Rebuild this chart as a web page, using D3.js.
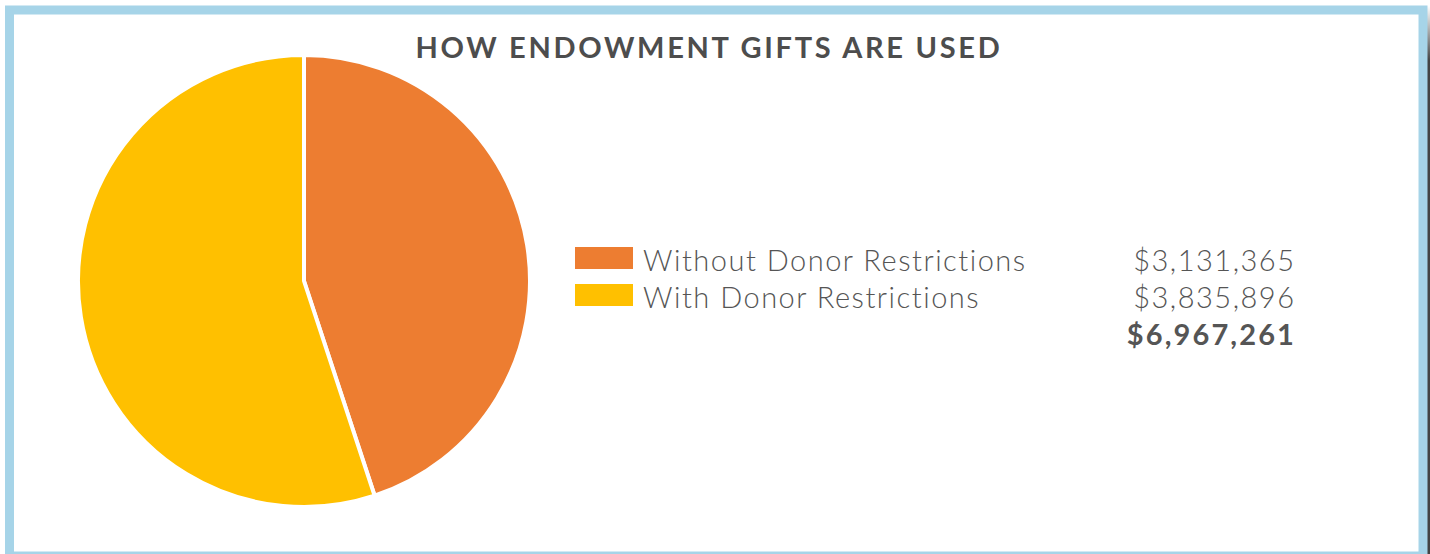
<!DOCTYPE html>
<html>
<head>
<meta charset="utf-8">
<script src="https://cdn.jsdelivr.net/npm/d3@7"></script>
<style>
  body { margin: 0; background: #fff; }
  svg { display: block; }
</style>
</head>
<body>
<div id="chart"></div>
<script>
// Veriler
const categories = ['Without Donor Restrictions', 'With Donor Restrictions'];
const values = [3131365, 3835896];
const colors = ['#ED7D31', '#FFC000'];
const title = 'HOW ENDOWMENT GIFTS ARE USED';

const width = 1430;
const height = 554;

const svg = d3.select('#chart')
    .append('svg')
    .attr('width', width)
    .attr('height', height);

// Sağ kenardaki gölge
const grad = svg.append('defs').append('linearGradient')
    .attr('id', 'shadow')
    .attr('x1', 0).attr('y1', 0).attr('x2', 0).attr('y2', 1);
grad.append('stop').attr('offset', '0%').attr('stop-color', '#fff');
grad.append('stop').attr('offset', '10%').attr('stop-color', '#444');
grad.append('stop').attr('offset', '100%').attr('stop-color', '#444');
svg.append('rect')
    .attr('x', 1427).attr('y', 6)
    .attr('width', 3).attr('height', height - 6)
    .attr('fill', 'url(#shadow)');

// Çerçeve
svg.append('rect')
    .attr('x', 9.5).attr('y', 10)
    .attr('width', 1413.5).attr('height', 546)
    .attr('fill', 'none')
    .attr('stroke', '#A6D4E8')
    .attr('stroke-width', 9);

// Başlık
svg.append('text')
    .attr('x', 709)
    .attr('y', 58)
    .attr('text-anchor', 'middle')
    .attr('font-family', 'Lato, "Noto Sans", sans-serif')
    .attr('font-weight', 'bold')
    .attr('font-size', 29)
    .attr('letter-spacing', 2.7)
    .attr('fill', '#4D4D4D')
    .text(title);

// Pasta
const cx = 304, cy = 281, radius = 226;
const pie = d3.pie().sort(null).value(d => d);
const arc = d3.arc().innerRadius(0).outerRadius(radius);

svg.append('g')
    .attr('transform', `translate(${cx},${cy})`)
    .selectAll('path')
    .data(pie(values))
    .enter()
    .append('path')
    .attr('d', arc)
    .attr('fill', (d, i) => colors[i])
    .attr('stroke', '#fff')
    .attr('stroke-width', 4)
    .attr('stroke-linejoin', 'round');

// Lejant
const fmt = d3.format('$,');
const legend = svg.append('g')
    .attr('font-family', 'Lato, "Noto Sans", sans-serif')
    .attr('fill', '#555');

const row = legend.selectAll('g')
    .data(categories)
    .enter()
    .append('g')
    .attr('transform', (d, i) => `translate(0,${271 + i * 37})`);

row.append('rect')
    .attr('x', 575)
    .attr('y', -24)
    .attr('width', 58)
    .attr('height', 22)
    .attr('fill', (d, i) => colors[i]);

row.append('text')
    .attr('x', 643)
    .attr('font-size', 29)
    .attr('font-weight', 300)
    .attr('letter-spacing', 1.5)
    .text(d => d);

row.append('text')
    .attr('x', 1295.5)
    .attr('text-anchor', 'end')
    .attr('font-size', 29)
    .attr('font-weight', 300)
    .attr('letter-spacing', 1.5)
    .text((d, i) => fmt(values[i]));

// Toplam
legend.append('text')
    .attr('x', 1296)
    .attr('y', 345)
    .attr('text-anchor', 'end')
    .attr('font-size', 29)
    .attr('font-weight', 'bold')
    .attr('letter-spacing', 2.1)
    .text(fmt(d3.sum(values)));
</script>
</body>
</html>
